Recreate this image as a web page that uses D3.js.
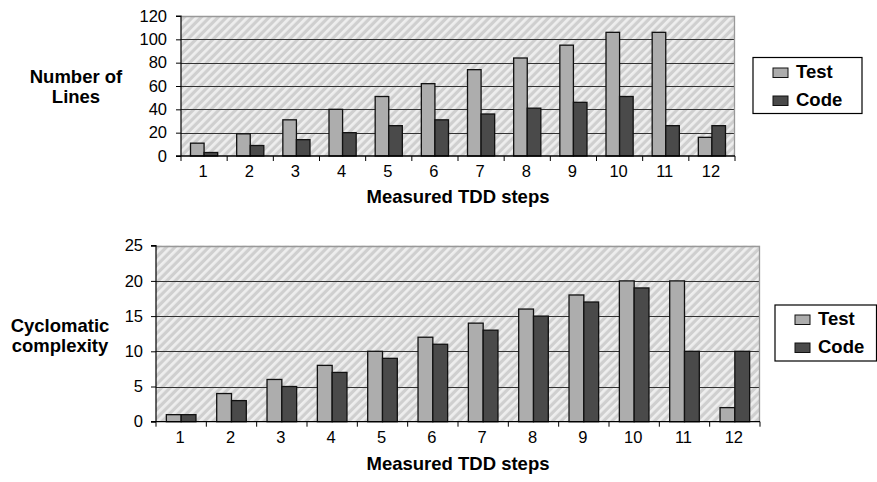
<!DOCTYPE html>
<html>
<head>
<meta charset="utf-8">
<script src="https://cdn.jsdelivr.net/npm/d3@7"></script>
<style>
  html, body { margin: 0; padding: 0; background: #fff; }
  svg { display: block; font-family: "Liberation Sans", Arial, Helvetica, sans-serif; }
</style>
</head>
<body>
<svg id="chart" width="877" height="482"></svg>
<script>
// ---- data ----
const steps = ["1","2","3","4","5","6","7","8","9","10","11","12"];
const seriesNames = ["Test", "Code"];
const linesTest = [11, 19, 31, 40, 51, 62, 74, 84, 95, 106, 106, 16];
const linesCode = [3, 9, 14, 20, 26, 31, 36, 41, 46, 51, 26, 26];
const ccTest = [1, 4, 6, 8, 10, 12, 14, 16, 18, 20, 20, 2];
const ccCode = [1, 3, 5, 7, 9, 11, 13, 15, 17, 19, 10, 10];
const linesTicks = [0, 20, 40, 60, 80, 100, 120];
const ccTicks = [0, 5, 10, 15, 20, 25];
const xTitle = "Measured TDD steps";

const colors = { Test: "#adadad", Code: "#4a4a4a" };

const svg = d3.select("#chart");
const defs = svg.append("defs");
const pat = defs.append("pattern")
  .attr("id", "hatch")
  .attr("patternUnits", "userSpaceOnUse")
  .attr("width", 6).attr("height", 6)
  .attr("patternTransform", "rotate(45)");
pat.append("rect").attr("width", 6).attr("height", 6).attr("fill", "#cfcfcf");
pat.append("rect").attr("width", 2.8).attr("height", 6).attr("fill", "#eeeeee");

function drawChart(cfg) {
  const g = svg.append("g");
  const x = d3.scaleBand().domain(steps).range([cfg.left, cfg.right]).padding(0);
  const y = d3.scaleLinear().domain([0, d3.max(cfg.ticks)]).range([cfg.bottom, cfg.top]);
  const inner = d3.scaleBand().domain(seriesNames)
    .range([0, x.bandwidth()]).paddingInner(0).paddingOuter(0.7);

  // plot background
  g.append("rect")
    .attr("x", cfg.left).attr("y", cfg.top)
    .attr("width", cfg.right - cfg.left).attr("height", cfg.bottom - cfg.top)
    .attr("fill", "url(#hatch)");

  // gridlines
  g.selectAll(".grid").data(cfg.ticks.slice(1, -1)).join("line")
    .attr("x1", cfg.left).attr("x2", cfg.right)
    .attr("y1", d => Math.round(y(d)) + 0.5).attr("y2", d => Math.round(y(d)) + 0.5)
    .attr("stroke", "#333").attr("stroke-width", 1.1);

  // top and right border
  g.append("path")
    .attr("d", `M${cfg.left},${Math.round(cfg.top)+0.5}H${cfg.right - 0.5}V${cfg.bottom}`)
    .attr("fill", "none").attr("stroke", "#999").attr("stroke-width", 1.3);

  // bars
  const data = steps.map((s, i) => ({ step: s, Test: cfg.test[i], Code: cfg.code[i] }));
  const groups = g.selectAll(".grp").data(data).join("g")
    .attr("transform", d => `translate(${x(d.step)},0)`);
  groups.selectAll("rect").data(d => seriesNames.map(k => ({ key: k, value: d[k] }))).join("rect")
    .attr("x", d => inner(d.key))
    .attr("y", d => y(d.value))
    .attr("width", inner.bandwidth())
    .attr("height", d => y(0) - y(d.value))
    .attr("fill", d => colors[d.key])
    .attr("stroke", "#111").attr("stroke-width", 1.3);

  // y axis
  const yAxis = d3.axisLeft(y).tickValues(cfg.ticks).tickSize(5).tickPadding(cfg.ypad).tickFormat(d3.format("d"));
  const ya = g.append("g").attr("transform", `translate(${cfg.left},0)`).call(yAxis);
  ya.select(".domain").attr("stroke", "#000").attr("stroke-width", 1.2).attr("d", `M-5,${cfg.top}H0V${cfg.bottom}`);
  ya.selectAll(".tick line").attr("stroke", "#000");
  ya.selectAll(".tick text").attr("font-size", 16.5).attr("fill", "#000")
    .attr("font-family", "Liberation Sans, Arial, sans-serif");

  // x axis: ticks at category boundaries
  const xa = g.append("g").attr("transform", `translate(0,${cfg.bottom})`);
  xa.append("line").attr("x1", cfg.left - 5).attr("x2", cfg.right).attr("y1", 0).attr("y2", 0)
    .attr("stroke", "#000").attr("stroke-width", 1.3);
  const bounds = steps.map(s => x(s)).concat([x(steps[steps.length - 1]) + x.bandwidth()]);
  xa.selectAll(".xt").data(bounds).join("line")
    .attr("x1", d => d).attr("x2", d => d).attr("y1", 0).attr("y2", 5)
    .attr("stroke", "#000");
  xa.selectAll(".xl").data(steps).join("text")
    .attr("x", d => x(d) + x.bandwidth() / 2 - 1)
    .attr("y", 21)
    .attr("text-anchor", "middle")
    .attr("font-size", 16.5)
    .text(d => d);

  // x title
  g.append("text")
    .attr("x", (cfg.left + cfg.right) / 2).attr("y", cfg.xTitleY)
    .attr("text-anchor", "middle").attr("font-weight", "bold").attr("font-size", 18.5)
    .text(xTitle);

  // y title
  const yt = g.append("text")
    .attr("text-anchor", "middle").attr("font-weight", "bold").attr("font-size", 18.5);
  cfg.yTitle.forEach((t, i) => {
    yt.append("tspan").attr("x", cfg.yTitleX).attr("y", cfg.yTitleY + i * 20).text(t);
  });

  // legend
  const lg = g.append("g");
  lg.append("rect")
    .attr("x", cfg.legend.x).attr("y", cfg.legend.y)
    .attr("width", cfg.legend.w).attr("height", cfg.legend.h)
    .attr("fill", "#fff").attr("stroke", "#000").attr("stroke-width", 1.2);
  seriesNames.forEach((k, i) => {
    const by = cfg.legend.y + cfg.legend.row0 + i * 28;
    lg.append("rect")
      .attr("x", cfg.legend.x + cfg.legend.sw).attr("y", by - 10)
      .attr("width", 15).attr("height", 9.5)
      .attr("fill", colors[k]).attr("stroke", "#111").attr("stroke-width", 1);
    lg.append("text")
      .attr("x", cfg.legend.x + cfg.legend.tx).attr("y", by)
      .attr("font-weight", "bold").attr("font-size", 18.5)
      .text(k);
  });
}

drawChart({
  left: 181, right: 735, top: 16, bottom: 156,
  ticks: linesTicks, test: linesTest, code: linesCode, ypad: 9,
  xTitleY: 203, yTitle: ["Number of", "Lines"], yTitleX: 76, yTitleY: 83,
  legend: { x: 753, y: 57.5, w: 109, h: 56, sw: 20, tx: 43, row0: 20.5 }
});

drawChart({
  left: 156, right: 760, top: 245.7, bottom: 421.7,
  ticks: ccTicks, test: ccTest, code: ccCode, ypad: 8,
  xTitleY: 470, yTitle: ["Cyclomatic", "complexity"], yTitleX: 60, yTitleY: 332,
  legend: { x: 775, y: 305, w: 101.5, h: 56, sw: 20, tx: 43, row0: 20 }
});
</script>
</body>
</html>
